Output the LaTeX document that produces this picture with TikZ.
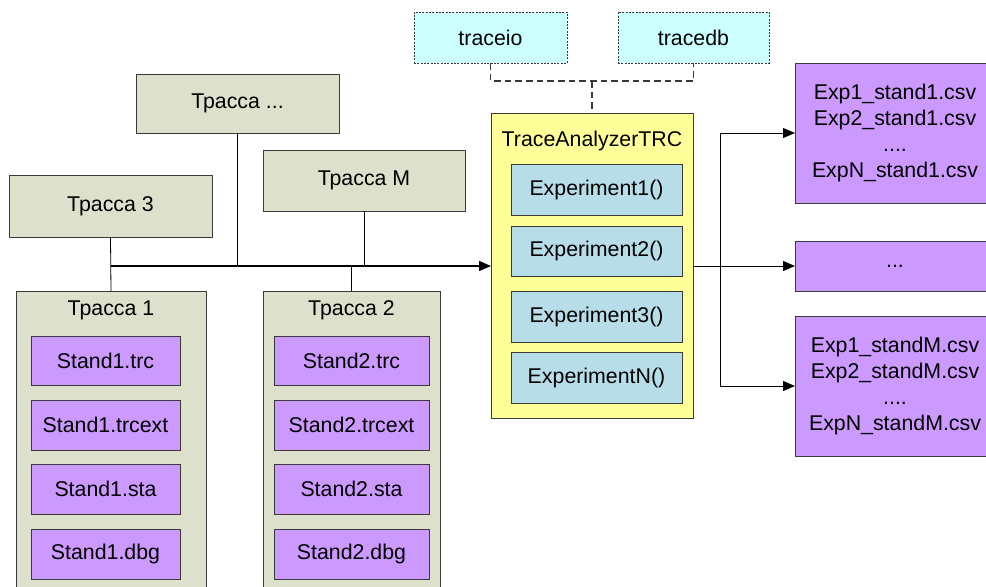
\documentclass[tikz,border=0pt]{standalone}
\usepackage{fontspec}
\setmainfont{Liberation Sans}
\usetikzlibrary{arrows.meta}
\definecolor{olivebox}{HTML}{DDE0CB}
\definecolor{filebox}{HTML}{CC99FF}
\definecolor{classbox}{HTML}{FFFF99}
\definecolor{methodbox}{HTML}{B7DDE8}
\definecolor{libbox}{HTML}{CCFFFF}
\definecolor{edge}{HTML}{3A3A3A}
\begin{document}
\begin{tikzpicture}[x=0.75pt,y=-0.75pt,
  wh/.style 2 args={minimum width=#1*0.75pt, minimum height=#2*0.75pt},
  base/.style={draw=edge, line width=0.6pt, inner sep=0pt, outer sep=0pt,
    font=\fontsize{16}{19.3}\selectfont, align=center},
  trackbox/.style={base, fill=olivebox},
  filenode/.style={base, fill=filebox},
  classnode/.style={base, fill=classbox},
  methodnode/.style={base, fill=methodbox},
  libnode/.style={base, fill=libbox, dash pattern=on 1.5pt off 1pt},
  link/.style={line width=0.6pt, black},
  bus/.style={line width=1.1pt, black},
  tip/.style={-{Triangle[length=9pt,width=7.5pt]}},
  libline/.style={line width=0.8pt, draw=edge, dash pattern=on 5pt off 3pt}]
\useasboundingbox (0,0) rectangle (986,586);
\clip (0,0) rectangle (986,586);

% libraries used by the analyzer
\node[libnode, wh={153}{51}] (traceio) at (490.5,37.5) {traceio};
\node[libnode, wh={151}{51}] (tracedb) at (693.5,37.5) {tracedb};

% analyzer class with its experiment methods
\node[classnode, wh={202}{305}] (trc) at (592,265.5) {};
\node[font=\fontsize{16}{19.3}\selectfont] (trctitle) at (592,141) {TraceAnalyzerTRC};
\node[methodnode, wh={171}{51}] (exp1) at (596.5,189.5) {Experiment1()};
\node[methodnode, wh={171}{50}] (exp2) at (596.5,251) {Experiment2()};
\node[methodnode, wh={171}{51}] (exp3) at (596.5,316.5) {Experiment3()};
\node[methodnode, wh={171}{51}] (expn) at (596.5,377.5) {ExperimentN()};

% traces
\node[trackbox, wh={203}{59}] (tdots) at (237.5,103.5) {Трасса ...};
\node[trackbox, wh={202}{61}] (tm) at (364,180.5) {Трасса M};
\node[trackbox, wh={203}{62}] (t3) at (110.5,206) {Трасса 3};
\node[trackbox, wh={190}{329}] (t1) at (111,455.5) {};
\node[trackbox, wh={177}{329}] (t2) at (351.5,455.5) {};
\node[font=\fontsize{16}{19.3}\selectfont] (t1title) at (111,310) {Трасса 1};
\node[font=\fontsize{16}{19.3}\selectfont] (t2title) at (351.5,310) {Трасса 2};

% files of stand 1
\node[filenode, wh={149}{49}] (s1trc) at (105.5,360.5) {Stand1.trc};
\node[filenode, wh={149}{50}] (s1ext) at (105.5,425) {Stand1.trcext};
\node[filenode, wh={149}{50}] (s1sta) at (105.5,489) {Stand1.sta};
\node[filenode, wh={149}{50}] (s1dbg) at (105.5,554) {Stand1.dbg};

% files of stand 2
\node[filenode, wh={155}{49}] (s2trc) at (351.5,360.5) {Stand2.trc};
\node[filenode, wh={155}{50}] (s2ext) at (351.5,425) {Stand2.trcext};
\node[filenode, wh={155}{50}] (s2sta) at (351.5,489) {Stand2.sta};
\node[filenode, wh={155}{50}] (s2dbg) at (351.5,554) {Stand2.dbg};

% result files
\node[filenode, wh={200}{140}] (out1) at (895,133) {Exp1\_stand1.csv\\Exp2\_stand1.csv\\....\\ExpN\_stand1.csv};
\node[filenode, wh={200}{50}] (out2) at (895,266) {...};
\node[filenode, wh={200}{140}] (out3) at (895,386) {Exp1\_standM.csv\\Exp2\_standM.csv\\....\\ExpN\_standM.csv};

% input bus from the traces to the analyzer
\coordinate (busstart) at (111,266);
\draw[link] (t3.south) -- (t1.north);
\draw[link] (tdots.south) -- (tdots.south |- busstart);
\draw[link] (tm.south) -- (tm.south |- busstart);
\draw[link] (t2.north) -- (t2.north |- busstart);
\draw[bus, tip] (busstart) -- (busstart -| trc.west);

% library dependencies
\coordinate (libjoin) at (592,81);
\draw[libline] (traceio.south) |- (libjoin) -| (tracedb.south);
\draw[libline] (libjoin) -- (trc.north);

% outputs
\coordinate (split) at (720,266);
\draw[link] (trc.east |- split) -- (split);
\draw[link, tip] (split) -- (out2.west);
\draw[link, tip] (split) |- (out1.west);
\draw[link, tip] (split) |- (out3.west);
\end{tikzpicture}
\end{document}
